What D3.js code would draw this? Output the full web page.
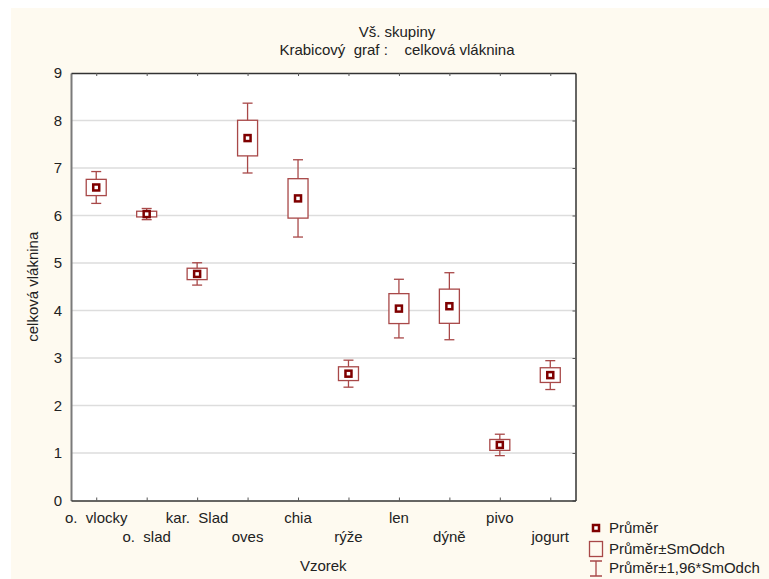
<!DOCTYPE html>
<html>
<head>
<meta charset="utf-8">
<script src="https://cdn.jsdelivr.net/npm/d3@7"></script>
<style>
  body { margin: 0; background: #fff; }
  svg { display: block; font-family: "Liberation Sans", Arial, sans-serif; }
  text { white-space: pre; }
</style>
</head>
<body>
<script>
const categories = ["o.  vlocky", "o.  slad", "kar.  Slad", "oves", "chia", "rýže", "len", "dýně", "pivo", "jogurt"];
const means = [6.59, 6.03, 4.77, 7.63, 6.36, 2.67, 4.04, 4.09, 1.17, 2.64];
const sds = [0.171, 0.06, 0.12, 0.375, 0.415, 0.145, 0.315, 0.36, 0.115, 0.155];
const yTicks = [0, 1, 2, 3, 4, 5, 6, 7, 8, 9];
const legendLabels = ["Průměr", "Průměr±SmOdch", "Průměr±1,96*SmOdch"];

const dataset = categories.map((c, i) => ({ name: c, mean: means[i], sd: sds[i] }));

const width = 769;
const height = 579;
const plotLeft = 71, plotRight = 575.5, plotTop = 73, plotBottom = 500.5;
const boxColor = "#a84848";
const darkRed = "#7f0000";

const svg = d3
  .select("body")
  .append("svg")
  .attr("width", width)
  .attr("height", height);

// cream window background
svg.append("rect")
  .attr("x", 11).attr("y", 8)
  .attr("width", width - 11).attr("height", height - 8)
  .attr("fill", "#fefaf0");

svg.append("rect")
  .attr("x", plotLeft).attr("y", plotTop)
  .attr("width", plotRight - plotLeft).attr("height", plotBottom - plotTop)
  .attr("fill", "#fff");

const xScale = d3.scalePoint().domain(categories).range([plotLeft, plotRight]).padding(0.5);
const yScale = d3.scaleLinear().domain([0, 9]).range([plotBottom, plotTop]);

// grid
svg.append("g")
  .selectAll("line")
  .data(yTicks.filter((t) => t > 0 && t < 9))
  .enter()
  .append("line")
  .attr("x1", plotLeft).attr("x2", plotRight)
  .attr("y1", (d) => yScale(d)).attr("y2", (d) => yScale(d))
  .attr("stroke", "#dddddd")
  .attr("stroke-width", 1.5);

// axes
const yAxis = d3.axisLeft(yScale).tickValues(yTicks).tickSize(0).tickPadding(9);
svg.append("g")
  .attr("transform", `translate(${plotLeft}, 0)`)
  .call(yAxis)
  .call((g) => g.select(".domain").attr("stroke", "#7a7a7a").attr("stroke-width", 2))
  .selectAll("text")
  .style("font-size", "15px")
  .attr("fill", "#222");

svg.append("g")
  .attr("transform", `translate(${plotRight}, 0)`)
  .call(d3.axisLeft(yScale).tickValues(yTicks).tickSize(3).tickSizeOuter(0).tickFormat(""))
  .call((g) => g.select(".domain").attr("stroke", "#333").attr("stroke-width", 1.5))
  .selectAll("line").attr("stroke", "#555");

svg.append("g")
  .attr("transform", `translate(0, ${plotTop})`)
  .call(d3.axisBottom(xScale).tickSize(3).tickSizeOuter(0).tickFormat(""))
  .call((g) => g.select(".domain").attr("stroke", "#333").attr("stroke-width", 1.5))
  .selectAll("line").attr("stroke", "#555");

svg.append("g")
  .attr("transform", `translate(0, ${plotBottom})`)
  .call(d3.axisTop(xScale).tickSize(3).tickSizeOuter(0).tickFormat(""))
  .call((g) => g.select(".domain").attr("stroke", "#333").attr("stroke-width", 1.5))
  .selectAll("line").attr("stroke", "#555");

// staggered category labels
svg.append("g")
  .selectAll("text")
  .data(categories)
  .enter()
  .append("text")
  .attr("x", (d) => xScale(d))
  .attr("y", (d, i) => (i % 2 === 0 ? 523 : 542))
  .attr("text-anchor", "middle")
  .style("font-size", "15px")
  .attr("fill", "#222")
  .text((d) => d);

// boxes
const groups = svg.append("g")
  .selectAll("g")
  .data(dataset)
  .enter()
  .append("g");

groups.append("line")
  .attr("x1", (d) => xScale(d.name)).attr("x2", (d) => xScale(d.name))
  .attr("y1", (d) => yScale(d.mean + 1.96 * d.sd))
  .attr("y2", (d) => yScale(d.mean - 1.96 * d.sd))
  .attr("stroke", boxColor).attr("stroke-width", 1.3);

groups.selectAll(".cap")
  .data((d) => [d.mean + 1.96 * d.sd, d.mean - 1.96 * d.sd].map((v) => ({ x: xScale(d.name), v })))
  .enter()
  .append("line")
  .attr("class", "cap")
  .attr("x1", (d) => d.x - 5).attr("x2", (d) => d.x + 5)
  .attr("y1", (d) => yScale(d.v)).attr("y2", (d) => yScale(d.v))
  .attr("stroke", boxColor).attr("stroke-width", 1.3);

groups.append("rect")
  .attr("x", (d) => xScale(d.name) - 10)
  .attr("y", (d) => yScale(d.mean + d.sd))
  .attr("width", 20)
  .attr("height", (d) => yScale(d.mean - d.sd) - yScale(d.mean + d.sd))
  .attr("fill", "#fff")
  .attr("stroke", boxColor).attr("stroke-width", 1.3);

groups.append("rect")
  .attr("x", (d) => xScale(d.name) - 3)
  .attr("y", (d) => yScale(d.mean) - 3)
  .attr("width", 6).attr("height", 6)
  .attr("fill", "#fff")
  .attr("stroke", darkRed).attr("stroke-width", 2.5);

// titles
svg.append("text")
  .attr("x", 397).attr("y", 37)
  .attr("text-anchor", "middle")
  .style("font-size", "15px").attr("fill", "#222")
  .text("Vš. skupiny");
svg.append("text")
  .attr("x", 397).attr("y", 55)
  .attr("text-anchor", "middle")
  .style("font-size", "15px").attr("fill", "#222")
  .text("Krabicový  graf :    celková vláknina");

svg.append("text")
  .attr("x", (plotLeft + plotRight) / 2).attr("y", 571)
  .attr("text-anchor", "middle")
  .style("font-size", "15px").attr("fill", "#222")
  .text("Vzorek");

svg.append("text")
  .attr("transform", `translate(38, ${(plotTop + plotBottom) / 2}) rotate(-90)`)
  .attr("text-anchor", "middle")
  .style("font-size", "15px").attr("fill", "#222")
  .text("celková vláknina");

// legend
const legend = svg.append("g");
const lx = 596;
const ly = [528, 549, 568];

legend.append("rect")
  .attr("x", lx - 3).attr("y", ly[0] - 3)
  .attr("width", 6).attr("height", 6)
  .attr("fill", "#fff")
  .attr("stroke", darkRed).attr("stroke-width", 2.5);

legend.append("rect")
  .attr("x", lx - 6.5).attr("y", ly[1] - 7.5)
  .attr("width", 13).attr("height", 15)
  .attr("fill", "none")
  .attr("stroke", boxColor).attr("stroke-width", 1.3);

legend.append("path")
  .attr("d", `M${lx - 6},${ly[2] - 7}H${lx + 6}M${lx},${ly[2] - 7}V${ly[2] + 8}M${lx - 6},${ly[2] + 8}H${lx + 6}`)
  .attr("fill", "none")
  .attr("stroke", boxColor).attr("stroke-width", 1.3);

legend.selectAll(".lt")
  .data(legendLabels)
  .enter()
  .append("text")
  .attr("class", "lt")
  .attr("x", 609)
  .attr("y", (d, i) => ly[i] + 5)
  .style("font-size", "15px").attr("fill", "#222")
  .text((d) => d);
</script>
</body>
</html>
